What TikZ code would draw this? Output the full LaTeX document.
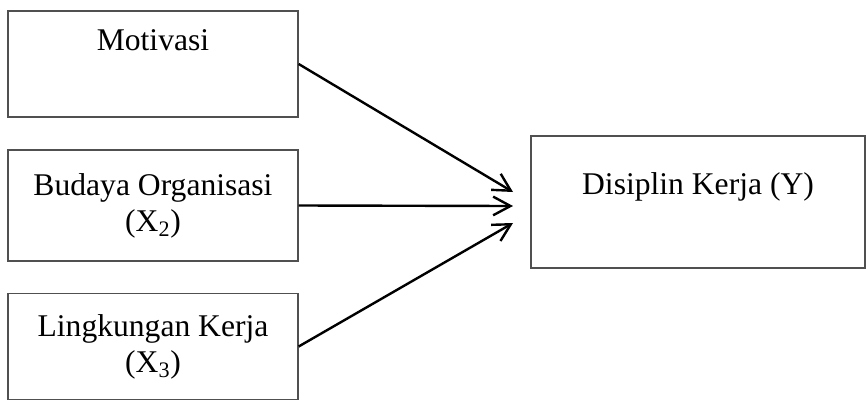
\documentclass[tikz,border=0pt]{standalone}
\usepackage{fontspec}
\setmainfont{Liberation Serif}
\usetikzlibrary{positioning, arrows.meta}
\definecolor{boxgray}{HTML}{505050}

\begin{document}
\begin{tikzpicture}[x=0.75pt, y=-0.75pt,
        var/.style={draw=boxgray, line width=1pt, align=center, inner sep=0pt,
            font=\fontsize{23.7}{27}\selectfont},
        arr/.style={-{Straight Barb[length=13pt, width=14pt, line width=1.8pt]}, line width=1.8pt}
    ]
      \useasboundingbox (0,0) rectangle (866,400);
      % independent variables
      \node[var, minimum width=217.5pt, minimum height=79.5pt] (motivasi) at (153,64)
           {Motivasi\\[9pt]\mbox{}};
      \node[var, minimum width=217.5pt, minimum height=83.25pt] (budaya) at (153,205.5)
           {Budaya Organisasi\\(X\textsubscript{2})};
      \node[var, minimum width=217.5pt, minimum height=79.5pt] (lingkungan) at (153,346.5)
           {Lingkungan Kerja\\(X\textsubscript{3})};
      % dependent variable
      \node[var, minimum width=250.5pt, minimum height=99pt] (disiplin) at (698,202)
           {Disiplin Kerja (Y)\\\mbox{}};
      % arrow ends
      \coordinate (in1) at (513,192);
      \coordinate (in2) at (513,206);
      \coordinate (in3) at (513,223);
      \draw[arr] (motivasi.east) -- (in1);
      \draw[arr] (budaya.east) -- (in2);
      \draw[arr] (lingkungan.east) -- (in3);
    \end{tikzpicture}
\end{document}
